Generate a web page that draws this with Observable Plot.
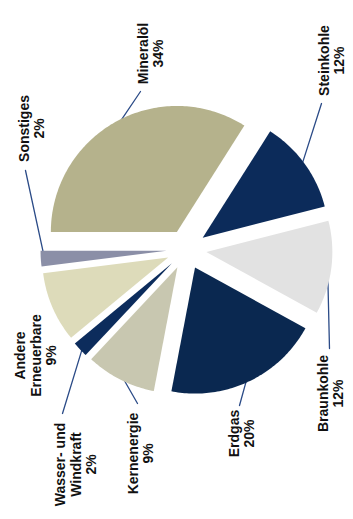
<!DOCTYPE html>
<html>
<head>
<meta charset="utf-8">
<script src="https://cdn.jsdelivr.net/npm/d3@7"></script>
<script src="https://cdn.jsdelivr.net/npm/@observablehq/plot@0.6"></script>
<style>
  html, body { margin: 0; padding: 0; background: #ffffff; }
  #chart svg { display: block; }
</style>
</head>
<body>
<div id="chart"></div>
<script>
// ---- data ----
const categories = ["Mineralöl", "Steinkohle", "Braunkohle", "Erdgas", "Kernenergie", "Wasser- und Windkraft", "Andere Erneuerbare", "Sonstiges"];
const shares = [34, 12, 12, 20, 9, 2, 9, 2];
const labelLines = ["Mineralöl\n34%", "Steinkohle\n12%", "Braunkohle\n12%", "Erdgas\n20%", "Kernenergie\n9%", "Wasser- und\nWindkraft\n2%", "Andere\nErneuerbare\n9%", "Sonstiges\n2%"];

// ---- style / layout ----
const colors = ["#b5b28c", "#0c2b5a", "#e2e2e2", "#0a2850", "#c8c7b0", "#0c2c5c", "#dddbba", "#8b8fa7"];
const R = 126;                 // pie radius, px
const cx = 186, cy = 249;      // pie centre, px
const W = 353, H = 519;
const explode = 20 / R;        // explosion in radius units
// label block centres and leader ends, px offsets from the pie centre
const labelLayout = [
  {dx: -36, dy: -196, lx: -46, ly: -158},
  {dx: 145, dy: -189, lx: 135, ly: -146},
  {dx: 144, dy: 144, lx: 143, ly: 99},
  {dx: 55, dy: 184, lx: 53, ly: 156},
  {dx: -46, dy: 204, lx: -49, ly: 154},
  {dx: -111, dy: 215, lx: -124, ly: 164},
  {dx: -151, dy: 106, lx: null, ly: null},
  {dx: -155, dy: -121, lx: -161, ly: -79}
];

const arcs = d3.pie().sort(null).value(d => d)
  .startAngle(-Math.PI / 2).endAngle(1.5 * Math.PI)(shares);

// slice outlines in radius units (y up), angle clockwise from 12 o'clock
const slicePts = [];
arcs.forEach((a, i) => {
  const mid = (a.startAngle + a.endAngle) / 2;
  const ox = explode * Math.sin(mid), oy = explode * Math.cos(mid);
  slicePts.push({name: categories[i], x: ox, y: oy});
  const n = Math.max(4, Math.ceil((a.endAngle - a.startAngle) / (Math.PI / 180)));
  for (let k = 0; k <= n; k++) {
    const t = a.startAngle + (a.endAngle - a.startAngle) * k / n;
    slicePts.push({name: categories[i], x: ox + Math.sin(t), y: oy + Math.cos(t)});
  }
});

// leader lines: from slice mid-arc to label
const leaderPts = [];
arcs.forEach((a, i) => {
  const L = labelLayout[i];
  if (L.lx == null) return;
  const mid = (a.startAngle + a.endAngle) / 2;
  const r0 = explode + 0.97;
  leaderPts.push({name: categories[i], x: r0 * Math.sin(mid), y: r0 * Math.cos(mid)});
  leaderPts.push({name: categories[i], x: L.lx / R, y: -L.ly / R});
});

const labels = arcs.map((a, i) => ({
  name: categories[i],
  text: labelLines[i],
  x: labelLayout[i].dx / R,
  y: -labelLayout[i].dy / R
}));

const chart = Plot.plot({
  width: W,
  height: H,
  margin: 0,
  x: {domain: [-cx / R, (W - cx) / R], axis: null},
  y: {domain: [-(H - cy) / R, cy / R], axis: null},
  color: {domain: categories, range: colors},
  style: {background: "#ffffff", overflow: "visible"},
  marks: [
    Plot.line(leaderPts, {x: "x", y: "y", z: "name", stroke: "#2b4b87", strokeWidth: 1.3}),
    Plot.line(slicePts, {x: "x", y: "y", z: "name", fill: "name", stroke: "none"}),
    Plot.text(labels, {
      x: "x", y: "y", text: "text", rotate: -90,
      textAnchor: "middle", lineAnchor: "middle", lineHeight: 1.12,
      fontSize: 14, fontWeight: "bold", fill: "#111111",
      fontFamily: "'Liberation Sans Narrow', 'Liberation Sans', Arial, sans-serif"
    })
  ]
});
document.getElementById("chart").appendChild(chart);
</script>
</body>
</html>
